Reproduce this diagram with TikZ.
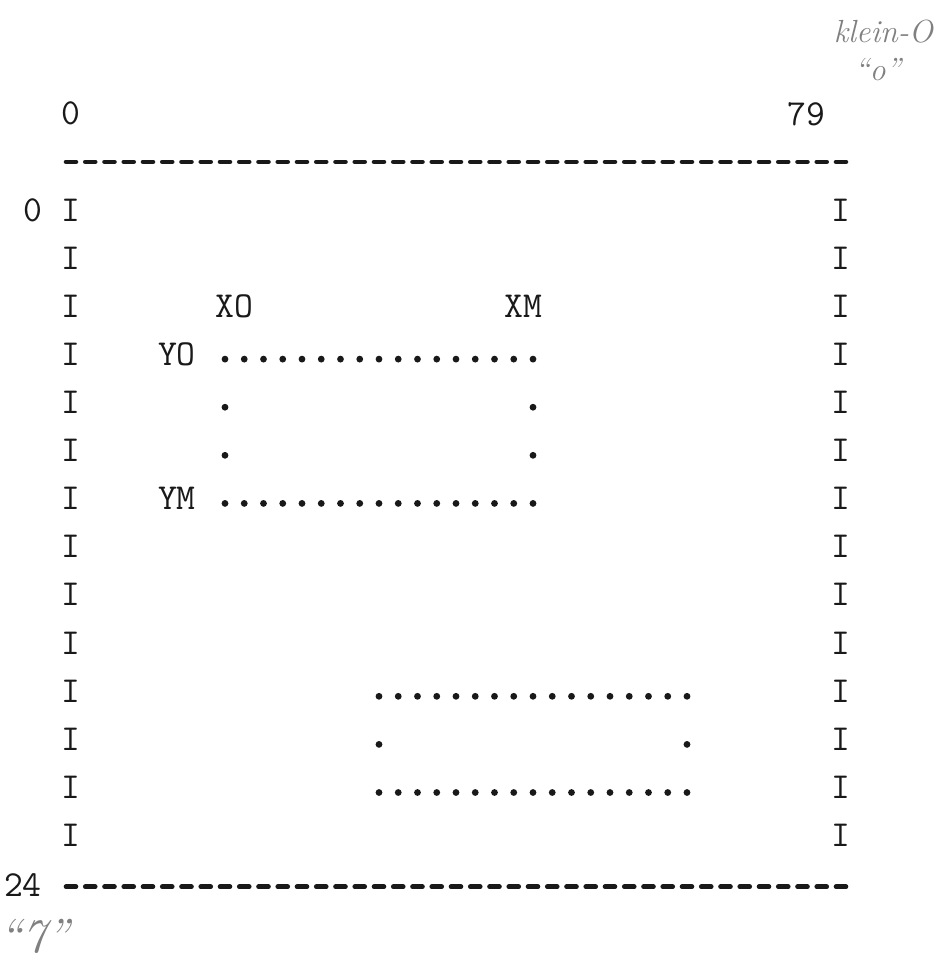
\documentclass[tikz,border=0pt]{standalone}
\usepackage{fontspec}
\usetikzlibrary{positioning}
\tikzset{
  typed/.style={font=\ttfamily\fontsize{18.3}{18.3}\selectfont, inner sep=0pt, text=black!90},
  hand/.style={font=\itshape\fontsize{16}{16}\selectfont, inner sep=0pt, text=black!50},
  dashrow/.style={line width=2.3pt, line cap=round, dash pattern=on 5pt off 4.625pt, black!90},
  typedot/.style={fill=black!90}
}
\begin{document}
\begin{tikzpicture}[x=9.625pt, y=-24.05pt]
\useasboundingbox (-3.688,-4.366) rectangle (45.04,15.613);
% column and row numbers
\node[typed] (top0) at (0,-2) {0};
\node[typed] (top79) at (38.2,-2) {79};
\node[typed] (left0) at (-2,0) {0};
\node[typed] (left24) at (-2.5,14.03) {24};
% screen edges
\draw[dashrow] (-0.26,-1) -- (40.26,-1);
\draw[dashrow] (-0.26,14.07) -- (40.26,14.07);
\foreach \r in {0,...,13}{
  \node[typed] (il\r) at (0,\r) {I};
  \node[typed] (ir\r) at (40,\r) {I};
}
% window with its corners
\node[typed] (xo) at (8.5,2) {XO};
\node[typed] (xm) at (23.5,2) {XM};
\node[typed] (yo) at (5.5,3) {YO};
\node[typed] (ym) at (5.5,6) {YM};
\foreach \c in {8,...,24}{
  \fill[typedot] (\c,3.1) circle[radius=1.7pt];
  \fill[typedot] (\c,6.1) circle[radius=1.7pt];
}
\foreach \r in {4,5}{
  \fill[typedot] (8,\r+0.1) circle[radius=1.7pt];
  \fill[typedot] (24,\r+0.1) circle[radius=1.7pt];
}
% second window
\foreach \c in {16,...,32}{
  \fill[typedot] (\c,10.11) circle[radius=1.7pt];
  \fill[typedot] (\c,12.11) circle[radius=1.7pt];
}
\fill[typedot] (16,11.11) circle[radius=1.7pt];
\fill[typedot] (32,11.11) circle[radius=1.7pt];
% handwritten notes
\node[hand] (klein) at (42.2,-3.7) {klein-O};
\node[hand] (kleino) at (41.9,-2.93) {``o''};
\node[hand, font=\itshape\fontsize{24}{24}\selectfont] (seven) at (-1.9,15.1) {``7''};
\end{tikzpicture}
\end{document}
